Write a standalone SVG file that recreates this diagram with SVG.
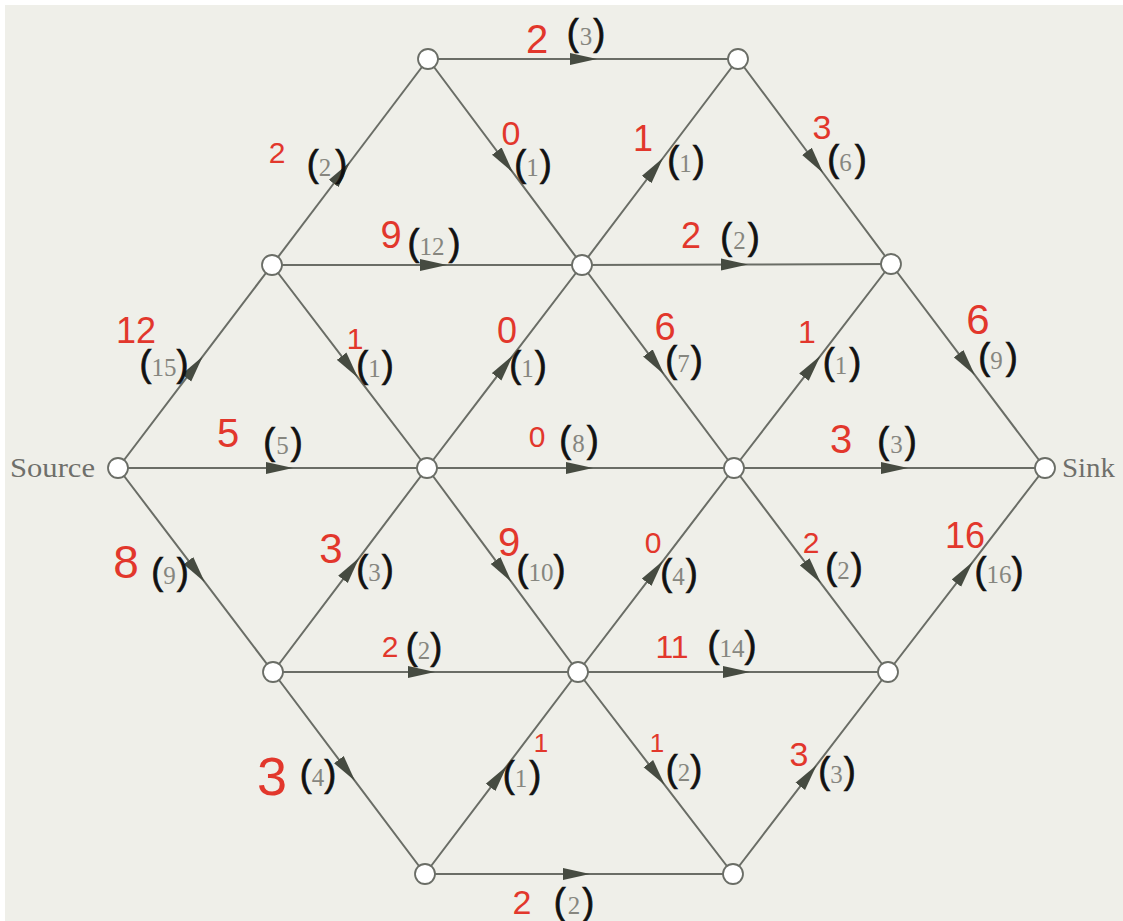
<svg xmlns="http://www.w3.org/2000/svg" width="1123" height="921" viewBox="0 0 1123 921">
<style>
.bg{fill:#efefe9}
.e{fill:none;stroke:#6a6d66;stroke-width:2;marker-mid:url(#ah)}
.nd{fill:#ffffff;stroke:#6a6d66;stroke-width:1.8}
.lbl{font-family:"Liberation Sans",Arial,sans-serif;font-size:27px;fill:#6f6f6b}
.lbl{font-family:"Liberation Serif",serif}
.f{font-family:"Liberation Sans",Arial,sans-serif;fill:#e2372c;text-anchor:middle}
.c{font-family:"Liberation Sans",Arial,sans-serif;text-anchor:middle;font-size:36px}
.p{fill:#111111;stroke:#111111;stroke-width:0.7}
.n{font-family:"Liberation Serif",serif;font-size:25px;fill:#86867f;stroke:none}
</style>
<defs>
<marker id="ah" viewBox="0 0 27 13" refX="27" refY="6.5" markerWidth="27" markerHeight="13" markerUnits="userSpaceOnUse" orient="auto">
<path d="M0,0.5 L27,6.5 L0,12.5 z" fill="#464b41"/>
</marker>
</defs>
<rect x="0" y="0" width="1123" height="921" fill="#ffffff"/>
<rect class="bg" x="5" y="5" width="1118" height="916"/>
<g id="connectors">
<path class="e" d="M428,59 L597,59 L738,59"/>
<path class="e" d="M272,265 L350,162 L428,59"/>
<path class="e" d="M428,59 L513,172.7 L582,265"/>
<path class="e" d="M582,265 L663,158 L738,59"/>
<path class="e" d="M738,59 L823.1,173 L891,264"/>
<path class="e" d="M272,265 L447,265 L582,265"/>
<path class="e" d="M582,265 L748,264.5 L891,264"/>
<path class="e" d="M118,468 L202.7,356.4 L272,265"/>
<path class="e" d="M272,265 L358,377.7 L427,468"/>
<path class="e" d="M427,468 L513,355.3 L582,265"/>
<path class="e" d="M582,265 L664.1,374.6 L734,468"/>
<path class="e" d="M734,468 L820.4,355.8 L891,264"/>
<path class="e" d="M891,264 L974.9,375.2 L1045,468"/>
<path class="e" d="M118,468 L293,468 L427,468"/>
<path class="e" d="M427,468 L593,468 L734,468"/>
<path class="e" d="M734,468 L908,468 L1045,468"/>
<path class="e" d="M118,468 L204.8,582.2 L273,672"/>
<path class="e" d="M273,672 L359.2,557.8 L427,468"/>
<path class="e" d="M427,468 L511.6,582.2 L578,672"/>
<path class="e" d="M578,672 L663,560.8 L734,468"/>
<path class="e" d="M734,468 L821,583.3 L888,672"/>
<path class="e" d="M888,672 L972.8,561.8 L1045,468"/>
<path class="e" d="M273,672 L435,672 L578,672"/>
<path class="e" d="M578,672 L750,672 L888,672"/>
<path class="e" d="M273,672 L355.1,781.1 L425,874"/>
<path class="e" d="M425,874 L506.9,765.9 L578,672"/>
<path class="e" d="M578,672 L664.8,785.1 L733,874"/>
<path class="e" d="M733,874 L816.7,764.9 L888,672"/>
<path class="e" d="M425,874 L590,874 L733,874"/>
</g>
<g id="node-source"><circle class="nd" cx="118" cy="468" r="10"/><text class="lbl" x="10" y="477" textLength="85" lengthAdjust="spacingAndGlyphs">Source</text></g>
<g id="node-sink"><circle class="nd" cx="1045" cy="468" r="10"/><text class="lbl" x="1062" y="477" textLength="53" lengthAdjust="spacingAndGlyphs">Sink</text></g>
<g id="node-a"><circle class="nd" cx="428" cy="59" r="10"/></g>
<g id="node-b"><circle class="nd" cx="738" cy="59" r="10"/></g>
<g id="node-c"><circle class="nd" cx="272" cy="265" r="10"/></g>
<g id="node-d"><circle class="nd" cx="582" cy="265" r="10"/></g>
<g id="node-e"><circle class="nd" cx="891" cy="264" r="10"/></g>
<g id="node-f"><circle class="nd" cx="427" cy="468" r="10"/></g>
<g id="node-g"><circle class="nd" cx="734" cy="468" r="10"/></g>
<g id="node-h"><circle class="nd" cx="273" cy="672" r="10"/></g>
<g id="node-i"><circle class="nd" cx="578" cy="672" r="10"/></g>
<g id="node-j"><circle class="nd" cx="888" cy="672" r="10"/></g>
<g id="node-k"><circle class="nd" cx="425" cy="874" r="10"/></g>
<g id="node-l"><circle class="nd" cx="733" cy="874" r="10"/></g>
<g id="flows">
<text class="f" x="537" y="53" font-size="40">2</text>
<text class="f" x="277" y="163" font-size="30">2</text>
<text class="f" x="511" y="145" font-size="34">0</text>
<text class="f" x="643" y="151" font-size="36">1</text>
<text class="f" x="822" y="139" font-size="34">3</text>
<text class="f" x="391" y="248" font-size="38">9</text>
<text class="f" x="691" y="248" font-size="36">2</text>
<text class="f" x="136" y="343" font-size="36">12</text>
<text class="f" x="355" y="349" font-size="30">1</text>
<text class="f" x="507" y="343" font-size="36">0</text>
<text class="f" x="665" y="340" font-size="38">6</text>
<text class="f" x="807" y="343" font-size="32">1</text>
<text class="f" x="978" y="334" font-size="42">6</text>
<text class="f" x="228" y="447" font-size="40">5</text>
<text class="f" x="537" y="447" font-size="30">0</text>
<text class="f" x="841" y="453" font-size="40">3</text>
<text class="f" x="126" y="578" font-size="46">8</text>
<text class="f" x="331" y="563" font-size="42">3</text>
<text class="f" x="509" y="556" font-size="40">9</text>
<text class="f" x="653" y="553" font-size="30">0</text>
<text class="f" x="811" y="553" font-size="30">2</text>
<text class="f" x="965" y="548" font-size="36">16</text>
<text class="f" x="390" y="657" font-size="30">2</text>
<text class="f" x="672" y="658" font-size="32">11</text>
<text class="f" x="272" y="795" font-size="54">3</text>
<text class="f" x="541" y="752" font-size="26">1</text>
<text class="f" x="522" y="914" font-size="34">2</text>
<text class="f" x="657" y="752" font-size="26">1</text>
<text class="f" x="799" y="766" font-size="34">3</text>
</g>
<g id="capacities">
<text class="c" x="586" y="45"><tspan class="p">(</tspan><tspan class="n" dx="1">3</tspan><tspan class="p" dx="1">)</tspan></text>
<text class="c" x="327" y="176"><tspan class="p">(</tspan><tspan class="n">2</tspan><tspan class="p" dx="4">)</tspan></text>
<text class="c" x="533" y="176"><tspan class="p">(</tspan><tspan class="n">1</tspan><tspan class="p" dx="1">)</tspan></text>
<text class="c" x="686" y="172"><tspan class="p">(</tspan><tspan class="n">1</tspan><tspan class="p" dx="1">)</tspan></text>
<text class="c" x="847" y="171"><tspan class="p">(</tspan><tspan class="n">6</tspan><tspan class="p" dx="3">)</tspan></text>
<text class="c" x="434" y="255"><tspan class="p">(</tspan><tspan class="n">12</tspan><tspan class="p" dx="4">)</tspan></text>
<text class="c" x="740" y="249"><tspan class="p">(</tspan><tspan class="n" dx="1">2</tspan><tspan class="p" dx="2">)</tspan></text>
<text class="c" x="164" y="376"><tspan class="p">(</tspan><tspan class="n">15</tspan><tspan class="p">)</tspan></text>
<text class="c" x="375" y="377"><tspan class="p">(</tspan><tspan class="n">1</tspan><tspan class="p" dx="1">)</tspan></text>
<text class="c" x="528" y="377"><tspan class="p">(</tspan><tspan class="n">1</tspan><tspan class="p" dx="1">)</tspan></text>
<text class="c" x="684" y="372"><tspan class="p">(</tspan><tspan class="n">7</tspan><tspan class="p" dx="1">)</tspan></text>
<text class="c" x="842" y="374"><tspan class="p">(</tspan><tspan class="n">1</tspan><tspan class="p" dx="2">)</tspan></text>
<text class="c" x="998" y="369"><tspan class="p">(</tspan><tspan class="n">9</tspan><tspan class="p" dx="3">)</tspan></text>
<text class="c" x="283" y="454"><tspan class="p">(</tspan><tspan class="n" dx="1">5</tspan><tspan class="p" dx="2">)</tspan></text>
<text class="c" x="579" y="452"><tspan class="p">(</tspan><tspan class="n" dx="1">8</tspan><tspan class="p" dx="2">)</tspan></text>
<text class="c" x="897" y="453"><tspan class="p">(</tspan><tspan class="n" dx="1">3</tspan><tspan class="p" dx="2">)</tspan></text>
<text class="c" x="170" y="584"><tspan class="p">(</tspan><tspan class="n">9</tspan><tspan class="p" dx="1">)</tspan></text>
<text class="c" x="375" y="581"><tspan class="p">(</tspan><tspan class="n">3</tspan><tspan class="p" dx="1">)</tspan></text>
<text class="c" x="541" y="581"><tspan class="p">(</tspan><tspan class="n">10</tspan><tspan class="p">)</tspan></text>
<text class="c" x="679" y="585"><tspan class="p">(</tspan><tspan class="n">4</tspan><tspan class="p" dx="1">)</tspan></text>
<text class="c" x="844" y="579"><tspan class="p">(</tspan><tspan class="n">2</tspan><tspan class="p" dx="1">)</tspan></text>
<text class="c" x="999" y="583"><tspan class="p">(</tspan><tspan class="n">16</tspan><tspan class="p">)</tspan></text>
<text class="c" x="424" y="659"><tspan class="p">(</tspan><tspan class="n">2</tspan><tspan class="p">)</tspan></text>
<text class="c" x="732" y="657"><tspan class="p">(</tspan><tspan class="n">14</tspan><tspan class="p">)</tspan></text>
<text class="c" x="318" y="786"><tspan class="p">(</tspan><tspan class="n">4</tspan><tspan class="p">)</tspan></text>
<text class="c" x="522" y="787"><tspan class="p">(</tspan><tspan class="n">1</tspan><tspan class="p" dx="2">)</tspan></text>
<text class="c" x="684" y="781"><tspan class="p">(</tspan><tspan class="n">2</tspan><tspan class="p">)</tspan></text>
<text class="c" x="837" y="783"><tspan class="p">(</tspan><tspan class="n">3</tspan><tspan class="p" dx="1">)</tspan></text>
<text class="c" x="574" y="914"><tspan class="p">(</tspan><tspan class="n" dx="2">2</tspan><tspan class="p" dx="2">)</tspan></text>
</g>
</svg>
